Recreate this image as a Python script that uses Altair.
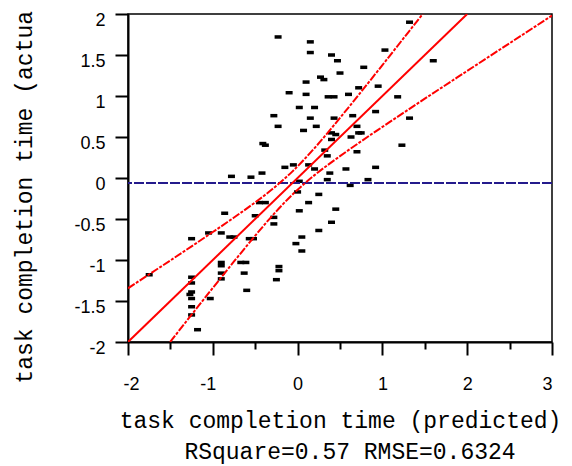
import altair as alt
import pandas as pd

# Predicted vs actual task completion time
pred = [1.32, -0.23, 0.15, 0.15, 0.40, 1.03, 0.47, 0.78, 0.50, 0.27,
        0.31, 0.10, 0.72, 0.95, -0.10, 0.10, 0.36, 0.43, 0.60, 1.18,
        0.02, 0.20, 0.92, -0.28, 0.15, 0.43, 0.65, 1.32, -0.23, 0.22,
        0.70, 0.07, 0.40, 0.45, 0.40, 0.63, 0.72, 0.75, -0.41, -0.38,
        0.32, 0.35, 0.70, 1.23, 1.60, -0.42, -0.15, -0.05, 0.13, 0.20,
        0.57, 0.92, 0.38, 0.35, 0.83, 0.02, -0.78, -0.55, 0.62, -0.45,
        -0.38, 0.00, 0.25, 0.13, 0.45, 0.02, -0.28, -0.28, 0.40, 0.25,
        0.05, -0.02, 0.05, -0.22, -0.22, -0.25, -0.86, -0.50, -1.25, -1.05,
        -0.90, -0.80, -0.75, -0.57, -0.52, -1.75, -0.90, -0.90, -0.90, -0.90,
        -0.67, -0.61, -0.63, -0.60, -1.25, -1.25, -1.25, -1.27, -1.25, -1.25,
        -1.25, -1.03, -1.18]
actual = [1.90, 1.72, 1.66, 1.53, 1.50, 1.56, 1.43, 1.35, 1.28, 1.23,
          1.20, 1.17, 1.10, 1.12, 1.04, 1.02, 0.99, 0.99, 1.02, 0.99,
          0.86, 0.86, 0.81, 0.76, 0.73, 0.73, 0.76, 0.73, 0.63, 0.63,
          0.63, 0.58, 0.55, 0.53, 0.47, 0.50, 0.55, 0.55, 0.42, 0.40,
          0.34, 0.27, 0.32, 0.40, 1.43, 0.06, 0.13, 0.16, 0.16, 0.11,
          0.11, 0.13, 0.06, -0.02, -0.02, -0.04, 0.02, 0.01, -0.09, -0.30,
          -0.30, -0.17, -0.20, -0.30, -0.38, -0.40, -0.48, -0.56, -0.54, -0.64,
          -0.72, -0.80, -0.89, -1.08, -1.13, -1.24, -0.43, -0.46, -0.74, -0.67,
          -0.67, -0.72, -0.72, -0.74, -0.74, -1.18, -1.03, -1.07, -1.16, -1.23,
          -1.03, -1.03, -1.16, -1.37, -1.21, -1.28, -1.39, -1.42, -1.47, -1.57,
          -1.67, -1.47, -1.85]

# Fit line and confidence curves
fit_x = [-2, 2]
fit_y = [-2, 2]
upper_x = [-2, -1.75, -1.5, -1.25, -1, -0.75, -0.5, -0.3, -0.06, 0.2, 0.5, 0.75, 1, 1.25, 1.475]
upper_y = [-1.345, -1.175, -1.005, -0.833, -0.659, -0.482, -0.297, -0.138, 0.081, 0.365, 0.733, 1.052, 1.377, 1.705, 2.0]
lower_x = [-1.503, -1.25, -1, -0.75, -0.5, -0.3, -0.06, 0.2, 0.5, 0.75, 1, 1.5, 2, 2.5, 3]
lower_y = [-2.0, -1.667, -1.341, -1.018, -0.703, -0.462, -0.201, 0.035, 0.267, 0.448, 0.623, 0.967, 1.306, 1.644, 1.981]
mean_actual = [-0.06]

x_ticks = [-2, -1.5, -1, -0.5, 0, 0.5, 1, 1.5, 2, 2.5, 3]
y_ticks = [-2, -1.5, -1, -0.5, 0, 0.5, 1, 1.5, 2]

MONO = "Liberation Mono"
SANS = "Liberation Sans"

xscale = alt.Scale(domain=[-2, 3], nice=False, zero=False)
yscale = alt.Scale(domain=[-2, 2], nice=False, zero=False)

x_axis = alt.Axis(
    values=x_ticks,
    title="task completion time (predicted)",
    labelExpr="datum.value % 1 === 0 ? '' + datum.value : ''",
    tickSize={"condition": {"test": "datum.value % 1 === 0", "value": 13}, "value": 7},
    labelOffset={"condition": {"test": "datum.value < 0", "value": -5}, "value": 0},
    labelPadding=20,
    titleBaseline="alphabetic",
    titleY=85,
)
y_axis = alt.Axis(
    values=y_ticks,
    title="task completion time (actual)",
    labelExpr="'' + datum.value",
    tickSize=13,
    labelPadding=10,
    labelOffset=6,
    titleBaseline="alphabetic",
    titleX=-97,
    titleY=169,
)

points_df = pd.DataFrame({"pred": pred, "actual": actual})
points = alt.Chart(points_df).mark_tick(
    orient="horizontal", size=7, thickness=3.5, color="black", opacity=1
).encode(
    x=alt.X("pred:Q", scale=xscale, axis=x_axis),
    y=alt.Y("actual:Q", scale=yscale, axis=y_axis),
)

mean_line = alt.Chart(pd.DataFrame({"m": mean_actual})).mark_rule(
    color="#241b8c", strokeWidth=2, strokeDash=[10, 2]
).encode(y=alt.Y("m:Q", scale=yscale))

fit_line = alt.Chart(pd.DataFrame({"x": fit_x, "y": fit_y})).mark_line(
    color="#ff0000", strokeWidth=2, clip=True
).encode(x=alt.X("x:Q", scale=xscale), y=alt.Y("y:Q", scale=yscale))

DASH = [8, 1.5, 3, 1.5]
upper_line = alt.Chart(pd.DataFrame({"x": upper_x, "y": upper_y})).mark_line(
    color="#ff0000", strokeWidth=2, strokeDash=DASH, interpolate="monotone", clip=True
).encode(x=alt.X("x:Q", scale=xscale), y=alt.Y("y:Q", scale=yscale))

lower_line = alt.Chart(pd.DataFrame({"x": lower_x, "y": lower_y})).mark_line(
    color="#ff0000", strokeWidth=2, strokeDash=DASH, interpolate="monotone", clip=True
).encode(x=alt.X("x:Q", scale=xscale), y=alt.Y("y:Q", scale=yscale))

chart = alt.layer(points, mean_line, fit_line, upper_line, lower_line).properties(
    width=424,
    height=328,
    autosize=alt.AutoSizeParams(type="none"),
    padding={"left": 120, "top": 6, "right": 12, "bottom": 124},
    title=alt.TitleParams(
        text="RSquare=0.57 RMSE=0.6324",
        orient="bottom",
        anchor="middle",
        font=MONO,
        fontSize=23,
        fontWeight="normal",
        color="black",
        offset=9,
        dx=10,
    ),
).configure_view(
    stroke="black", strokeWidth=1.5
).configure_axis(
    domainColor="black",
    domainWidth=2,
    tickColor="black",
    tickWidth=2,
    grid=False,
    labelFont=SANS,
    labelFontSize=18,
    labelColor="black",
    titleFont=MONO,
    titleFontSize=23,
    titleFontWeight="normal",
    titleColor="black",
)

chart.save("out.html", embed_options={"renderer": "svg", "actions": False})
